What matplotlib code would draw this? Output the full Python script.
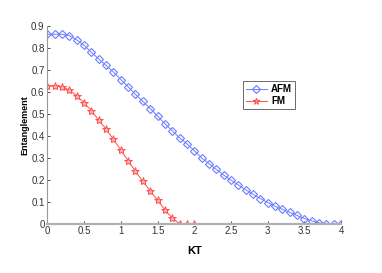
import numpy as np
import matplotlib.pyplot as plt

# temperature grid (step 0.1)
kt_afm = [round(0.1 * i, 1) for i in range(41)]
kt_fm = [round(0.1 * i, 1) for i in range(21)]

afm = [0.862, 0.862, 0.862, 0.856, 0.836, 0.812, 0.780, 0.749, 0.720, 0.690,
       0.656, 0.623, 0.588, 0.557, 0.524, 0.490, 0.455, 0.423, 0.391, 0.363,
       0.332, 0.299, 0.273, 0.247, 0.221, 0.198, 0.176, 0.154, 0.134, 0.114,
       0.096, 0.079, 0.065, 0.051, 0.037, 0.023, 0.012, 0.003, 0.0, 0.0, 0.0]
fm = [0.627, 0.627, 0.623, 0.608, 0.582, 0.550, 0.514, 0.471, 0.430, 0.383,
      0.336, 0.286, 0.238, 0.192, 0.149, 0.106, 0.063, 0.025, 0.0, 0.0, 0.0]

xticks = [0, 0.5, 1, 1.5, 2, 2.5, 3, 3.5, 4]
xtick_labels = ['0', '0.5', '1', '1.5', '2', '2.5', '3', '3.5', '4']
yticks = [0, 0.1, 0.2, 0.3, 0.4, 0.5, 0.6, 0.7, 0.8, 0.9]
ytick_labels = ['0', '0.1', '0.2', '0.3', '0.4', '0.5', '0.6', '0.7', '0.8', '0.9']

plt.rcParams['font.family'] = ['Liberation Sans', 'DejaVu Sans']

fig = plt.figure(figsize=(3.82, 2.73), dpi=100)
ax = fig.add_axes([0.124, 0.181, 0.769, 0.724])

blue = '#6a7dff'
red = '#ff4d4d'
ax.plot(kt_afm, afm, color=blue, lw=0.7, marker='D', ms=4.5,
        mfc='none', mec=blue, mew=0.8, label='AFM')
ax.plot(kt_fm, fm, color=red, lw=0.7, marker='*', ms=6,
        mfc='#ffb0b0', mec=red, mew=0.7, label='FM')

ax.set_xlim(0, 4)
ax.set_ylim(0, 0.9)
ax.set_xticks(xticks)
ax.set_xticklabels(xtick_labels)
ax.set_yticks(yticks)
ax.set_yticklabels(ytick_labels)
ax.tick_params(direction='in', length=2, width=0.6, labelsize=7, colors='#333333', pad=2)

for side in ['top', 'right']:
    ax.spines[side].set_visible(False)
ax.spines['left'].set_color('#999999')
ax.spines['left'].set_linewidth(0.8)
ax.spines['bottom'].set_color('#b0b0b0')
ax.spines['bottom'].set_linewidth(1.6)

ax.set_xlabel('KT', fontsize=8, fontweight='bold', labelpad=7)
ax.set_ylabel('Entanglement', fontsize=6.5, fontweight='bold', labelpad=1)

leg = ax.legend(loc='upper left', bbox_to_anchor=(0.665, 0.72),
                prop={'weight': 'bold', 'size': 7}, frameon=True, fancybox=False,
                handlelength=2.2, handletextpad=0.4, borderpad=0.3,
                labelspacing=0.2, borderaxespad=0, markerscale=0.8)
leg.get_frame().set_edgecolor('#444444')
leg.get_frame().set_linewidth(0.7)

fig.savefig('out.png', dpi=100)
